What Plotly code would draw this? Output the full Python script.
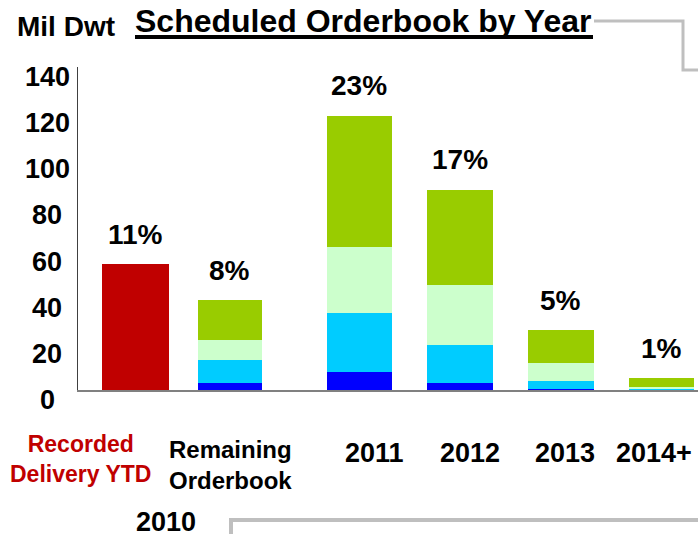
import plotly.graph_objects as go

# ---------------- data ----------------
cats_2010 = ["Recorded Delivery YTD", "Remaining Orderbook"]
cats_years = ["2011", "2012", "2013", "2014+"]
recorded_ytd = [54.4, None]
# stacked segments: Remaining Orderbook, 2011, 2012, 2013, 2014+
seg_blue = [3.0, 7.8, 3.0, 0.3, 0.1]
seg_cyan = [10.0, 25.5, 16.4, 3.6, 0.5]
seg_lightgreen = [8.6, 28.5, 26.0, 7.8, 0.8]
seg_green = [17.3, 57.0, 41.4, 14.2, 3.8]
pct_labels = ["11%", "8%", "23%", "17%", "5%", "1%"]
y_ticks = [0, 20, 40, 60, 80, 100, 120, 140]
group_label = "2010"
y_unit = "Mil Dwt"
title_text = "Scheduled Orderbook by Year"

# ---------------- layout helpers ----------------
W, H = 698, 534
ML, MR, MT, MB = 78, 0, 67, 144
PW, PH = W - ML - MR, H - MT - MB
FONT = "Liberation Sans, Arial, sans-serif"


def px(x):
    return (x - ML) / PW


def py(y):
    return (H - MB - y) / PH


split = px(309)
series = [
    ("Blue", seg_blue, "#0000FF"),
    ("Cyan", seg_cyan, "#00CCFF"),
    ("Light green", seg_lightgreen, "#CCFFCC"),
    ("Green", seg_green, "#99CC00"),
]

fig = go.Figure()
fig.add_trace(go.Bar(x=cats_2010, y=recorded_ytd, marker_color="#C00000",
                     width=0.71, xaxis="x", yaxis="y", showlegend=False,
                     marker_line_width=0))
for name, vals, col in series:
    fig.add_trace(go.Bar(x=cats_2010, y=[None, vals[0]], marker_color=col,
                         width=0.68, xaxis="x", yaxis="y", showlegend=False,
                         marker_line_width=0, name=name))
    fig.add_trace(go.Bar(x=cats_years, y=vals[1:], marker_color=col,
                         width=0.65, xaxis="x2", yaxis="y", showlegend=False,
                         marker_line_width=0, name=name))

totals_2010 = [recorded_ytd[0], sum(s[1][0] for s in series)]
totals_years = [sum(s[1][i] for s in series) for i in range(1, 5)]

annotations = []
bold = dict(family=FONT, color="black", weight="bold")
for i, c in enumerate(cats_2010):
    annotations.append(dict(x=i, y=totals_2010[i], xref="x", yref="y",
                            text=pct_labels[i], showarrow=False, yshift=30,
                            font=dict(size=28, **bold)))
for i, c in enumerate(cats_years):
    annotations.append(dict(x=i, y=totals_years[i], xref="x2", yref="y",
                            text=pct_labels[i + 2], showarrow=False, yshift=30,
                            font=dict(size=28, **bold)))

# y tick labels (centred, as in the original)
for t in y_ticks:
    annotations.append(dict(x=px(47), y=t, xref="paper", yref="y", text=str(t),
                            showarrow=False, xanchor="center", yanchor="middle",
                            yshift=-10, font=dict(size=27, **bold)))

# category labels
annotations.append(dict(x=px(80), y=py(459), xref="paper", yref="paper",
                        text=cats_2010[0].replace(" ", "<br>", 1), showarrow=False,
                        xanchor="center", yanchor="middle", align="center",
                        font=dict(size=23, family=FONT, color="#C00000", weight="bold")))
annotations.append(dict(x=px(167), y=py(465), xref="paper", yref="paper",
                        text=cats_2010[1].replace(" ", "<br>", 1), showarrow=False,
                        xanchor="left", yanchor="middle", align="left",
                        font=dict(size=24, **bold)))
year_label_x = [374, 470, 565, 654]
for c, xx in zip(cats_years, year_label_x):
    annotations.append(dict(x=px(xx), y=py(453), xref="paper", yref="paper",
                            text=c, showarrow=False, xanchor="center", yanchor="middle",
                            font=dict(size=27, **bold)))
annotations.append(dict(x=px(166), y=py(522), xref="paper", yref="paper",
                        text=group_label, showarrow=False, xanchor="center", yanchor="middle",
                        borderpad=0, font=dict(size=27, **bold)))
annotations.append(dict(x=px(66), y=py(27), xref="paper", yref="paper",
                        text=y_unit, showarrow=False, xanchor="center", yanchor="middle",
                        font=dict(size=28, **bold)))
annotations.append(dict(x=px(135), y=py(21), xref="paper", yref="paper",
                        text=title_text, showarrow=False, xanchor="left", yanchor="middle",
                        xshift=-2, font=dict(size=32, **bold)))

gray = "#BFBFBF"
shapes = [
    dict(type="line", xref="paper", yref="paper", x0=px(135), x1=px(593),
         y0=py(37), y1=py(37), line=dict(color="black", width=4)),
    dict(type="path", xref="paper", yref="paper",
         path=f"M {px(594)},{py(21)} L {px(683)},{py(21)} L {px(683)},{py(70)} L {px(700)},{py(70)}",
         line=dict(color=gray, width=3)),
    dict(type="path", xref="paper", yref="paper",
         path=f"M {px(231)},{py(540)} L {px(231)},{py(520)} L {px(700)},{py(520)}",
         line=dict(color=gray, width=4)),
]

fig.update_layout(
    width=W, height=H,
    margin=dict(l=ML, r=MR, t=MT, b=MB),
    paper_bgcolor="white", plot_bgcolor="white",
    barmode="stack", showlegend=False,
    xaxis=dict(domain=[0, split], type="category", range=[-0.608, 1.836],
               showline=True, linecolor="#808080", linewidth=2, showgrid=False,
               zeroline=False, showticklabels=False, ticks=""),
    xaxis2=dict(domain=[split, 1], type="category", range=[-0.5, 3.36], anchor="y",
                showline=True, linecolor="#808080", linewidth=2, showgrid=False,
                zeroline=False, showticklabels=False, ticks=""),
    yaxis=dict(range=[0, 140], tickvals=y_ticks, showline=True, linecolor="#404040",
               linewidth=1, showgrid=False, zeroline=False, ticks="",
               showticklabels=False),
    annotations=annotations,
    shapes=shapes,
)

fig.write_html("out.html", config={"displayModeBar": False},
               post_script="document.body.style.margin='0px';document.body.style.overflow='hidden';")
